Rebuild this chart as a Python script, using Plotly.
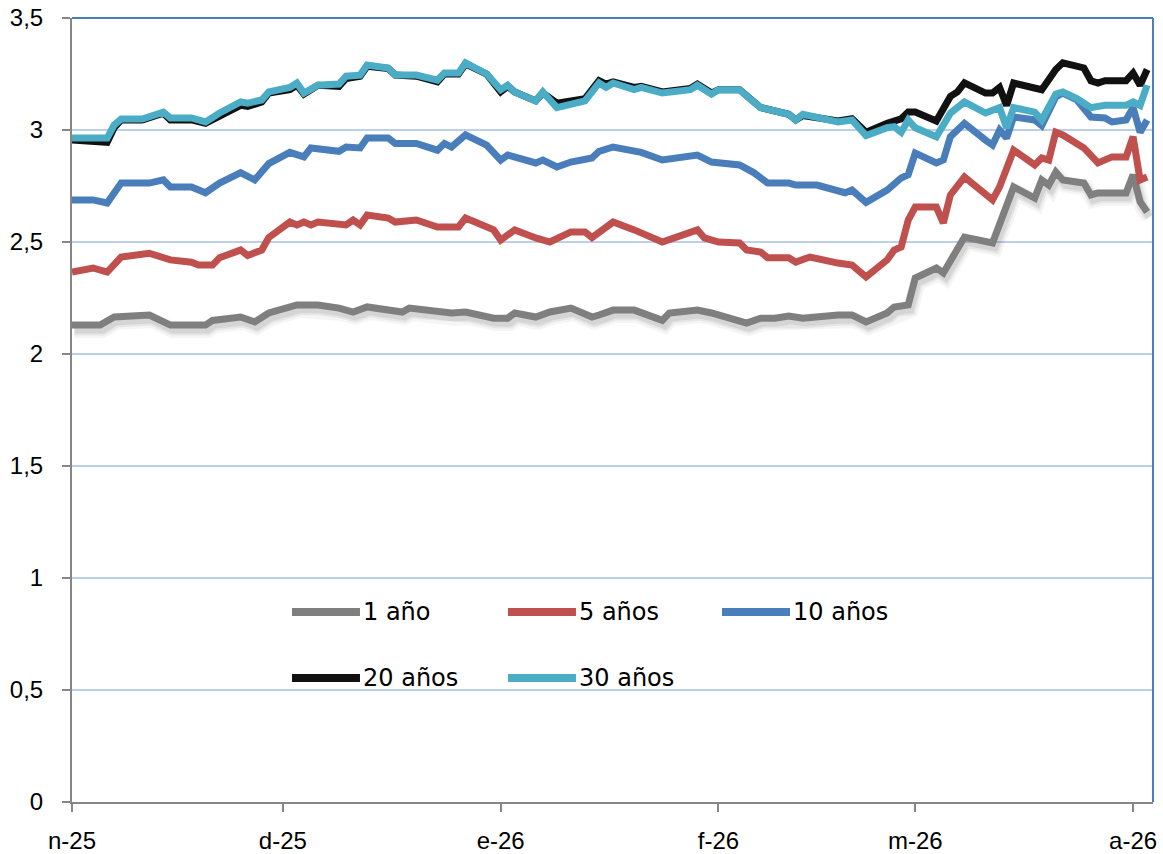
import plotly.graph_objects as go

# ---------------- data ----------------
dates_30 = ["2025-11-01","2025-11-06","2025-11-07","2025-11-08","2025-11-11","2025-11-14","2025-11-15","2025-11-18",
            "2025-11-20","2025-11-22","2025-11-25","2025-11-26","2025-11-28","2025-11-29","2025-12-02","2025-12-03",
            "2025-12-04","2025-12-06","2025-12-09","2025-12-10","2025-12-12","2025-12-13","2025-12-16","2025-12-17",
            "2025-12-20","2025-12-23","2025-12-24","2025-12-26","2025-12-27","2025-12-30","2026-01-01","2026-01-02",
            "2026-01-03","2026-01-06","2026-01-07","2026-01-09","2026-01-13","2026-01-15","2026-01-16","2026-01-17",
            "2026-01-20","2026-01-21","2026-01-24","2026-01-28","2026-01-29","2026-01-31","2026-02-01","2026-02-04",
            "2026-02-06","2026-02-07","2026-02-11","2026-02-12","2026-02-13","2026-02-18","2026-02-20","2026-02-22",
            "2026-02-25","2026-02-26","2026-02-27","2026-02-28","2026-03-01","2026-03-04","2026-03-06","2026-03-08",
            "2026-03-11","2026-03-13","2026-03-14","2026-03-15","2026-03-18","2026-03-19","2026-03-21","2026-03-22",
            "2026-03-24","2026-03-26","2026-03-28","2026-03-31","2026-04-01","2026-04-02","2026-04-03"]
y30 = [2.964,2.964,3.022,3.049,3.049,3.08,3.054,3.054,
       3.036,3.076,3.125,3.12,3.134,3.17,3.19,3.21,
       3.165,3.20,3.205,3.24,3.245,3.29,3.277,3.245,
       3.245,3.223,3.254,3.254,3.30,3.25,3.18,3.20,
       3.17,3.13,3.17,3.10,3.13,3.21,3.19,3.21,
       3.18,3.19,3.165,3.18,3.20,3.16,3.18,3.18,
       3.125,3.10,3.07,3.045,3.07,3.036,3.045,2.975,
       3.01,3.015,2.99,3.045,3.01,2.97,3.075,3.125,
       3.076,3.10,3.01,3.10,3.08,3.045,3.16,3.17,
       3.14,3.10,3.11,3.11,3.125,3.11,3.20]

dates_20 = ["2025-11-01","2025-11-06","2025-11-07","2025-11-08","2025-11-11","2025-11-14","2025-11-15","2025-11-18",
            "2025-11-20","2025-11-22","2025-11-25","2025-11-26","2025-11-28","2025-11-29","2025-12-02","2025-12-03",
            "2025-12-04","2025-12-06","2025-12-09","2025-12-10","2025-12-12","2025-12-13","2025-12-16","2025-12-17",
            "2025-12-20","2025-12-23","2025-12-24","2025-12-26","2025-12-27","2025-12-30","2026-01-01","2026-01-02",
            "2026-01-03","2026-01-06","2026-01-07","2026-01-09","2026-01-13","2026-01-15","2026-01-16","2026-01-17",
            "2026-01-20","2026-01-21","2026-01-24","2026-01-28","2026-01-29","2026-01-31","2026-02-01","2026-02-04",
            "2026-02-06","2026-02-07","2026-02-11","2026-02-12","2026-02-13","2026-02-18","2026-02-20","2026-02-22",
            "2026-02-25","2026-02-27","2026-02-28","2026-03-01","2026-03-04","2026-03-06","2026-03-07","2026-03-08",
            "2026-03-11","2026-03-12","2026-03-13","2026-03-14","2026-03-15","2026-03-18","2026-03-19","2026-03-21",
            "2026-03-22","2026-03-25","2026-03-26","2026-03-27","2026-03-28","2026-03-31","2026-04-01","2026-04-02",
            "2026-04-03"]
y20 = [2.955,2.945,3.01,3.045,3.045,3.075,3.045,3.045,
       3.03,3.065,3.11,3.105,3.125,3.165,3.18,3.20,
       3.16,3.20,3.195,3.23,3.24,3.285,3.275,3.245,
       3.24,3.215,3.25,3.25,3.295,3.25,3.17,3.195,
       3.17,3.13,3.165,3.12,3.14,3.22,3.205,3.215,
       3.19,3.195,3.17,3.185,3.205,3.165,3.18,3.18,
       3.13,3.10,3.07,3.045,3.065,3.04,3.05,2.99,
       3.03,3.05,3.08,3.08,3.04,3.15,3.17,3.21,
       3.165,3.165,3.19,3.11,3.21,3.19,3.18,3.27,
       3.30,3.277,3.22,3.21,3.22,3.22,3.254,3.20,
       3.27]

dates_10 = ["2025-11-01","2025-11-04","2025-11-06","2025-11-08","2025-11-12","2025-11-14","2025-11-15","2025-11-18",
            "2025-11-20","2025-11-22","2025-11-25","2025-11-27","2025-11-29","2025-12-02","2025-12-04","2025-12-05",
            "2025-12-09","2025-12-10","2025-12-12","2025-12-13","2025-12-16","2025-12-17","2025-12-20","2025-12-23",
            "2025-12-24","2025-12-25","2025-12-27","2025-12-30","2026-01-01","2026-01-02","2026-01-06","2026-01-07",
            "2026-01-09","2026-01-11","2026-01-14","2026-01-15","2026-01-17","2026-01-20","2026-01-21","2026-01-24",
            "2026-01-28","2026-01-29","2026-01-31","2026-02-04","2026-02-06","2026-02-08","2026-02-11","2026-02-12",
            "2026-02-15","2026-02-19","2026-02-20","2026-02-22","2026-02-25","2026-02-27","2026-02-28","2026-03-01",
            "2026-03-04","2026-03-05","2026-03-06","2026-03-08","2026-03-11","2026-03-12","2026-03-13","2026-03-14",
            "2026-03-15","2026-03-18","2026-03-19","2026-03-21","2026-03-22","2026-03-24","2026-03-26","2026-03-28",
            "2026-03-29","2026-03-31","2026-04-01","2026-04-02","2026-04-03"]
y10 = [2.688,2.688,2.674,2.763,2.763,2.777,2.746,2.746,
       2.72,2.763,2.81,2.777,2.85,2.90,2.88,2.92,
       2.905,2.924,2.92,2.964,2.964,2.94,2.94,2.91,
       2.94,2.924,2.978,2.933,2.866,2.888,2.853,2.866,
       2.835,2.857,2.875,2.905,2.924,2.90,2.90,2.866,
       2.88,2.888,2.857,2.844,2.81,2.763,2.763,2.754,
       2.754,2.72,2.732,2.677,2.732,2.786,2.80,2.897,
       2.853,2.866,2.97,3.03,2.955,2.933,3.0,2.964,
       3.058,3.045,3.02,3.147,3.165,3.134,3.058,3.054,
       3.036,3.045,3.10,2.99,3.045]

dates_5 = ["2025-11-01","2025-11-04","2025-11-06","2025-11-08","2025-11-12","2025-11-14","2025-11-15","2025-11-18",
           "2025-11-19","2025-11-21","2025-11-22","2025-11-25","2025-11-26","2025-11-28","2025-11-29","2025-12-02",
           "2025-12-03","2025-12-04","2025-12-05","2025-12-06","2025-12-09","2025-12-10","2025-12-11","2025-12-12",
           "2025-12-13","2025-12-16","2025-12-17","2025-12-20","2025-12-23","2025-12-26","2025-12-27","2025-12-31",
           "2026-01-01","2026-01-03","2026-01-06","2026-01-08","2026-01-11","2026-01-13","2026-01-14","2026-01-15",
           "2026-01-17","2026-01-20","2026-01-24","2026-01-29","2026-01-30","2026-02-01","2026-02-04","2026-02-05",
           "2026-02-07","2026-02-08","2026-02-11","2026-02-12","2026-02-14","2026-02-18","2026-02-20","2026-02-22",
           "2026-02-25","2026-02-26","2026-02-27","2026-02-28","2026-03-01","2026-03-04","2026-03-05","2026-03-06",
           "2026-03-08","2026-03-12","2026-03-13","2026-03-15","2026-03-18","2026-03-19","2026-03-20","2026-03-21",
           "2026-03-22","2026-03-25","2026-03-27","2026-03-29","2026-03-31","2026-04-01","2026-04-02","2026-04-03"]
y5 = [2.366,2.384,2.366,2.433,2.45,2.433,2.42,2.41,
      2.397,2.397,2.43,2.464,2.44,2.464,2.52,2.589,
      2.576,2.589,2.576,2.589,2.576,2.576,2.598,2.576,
      2.62,2.607,2.589,2.598,2.567,2.567,2.607,2.554,
      2.509,2.554,2.518,2.50,2.545,2.545,2.52,2.54,
      2.589,2.554,2.50,2.554,2.518,2.50,2.496,2.464,
      2.455,2.43,2.43,2.41,2.433,2.406,2.397,2.344,
      2.42,2.464,2.478,2.598,2.656,2.656,2.585,2.71,
      2.79,2.688,2.746,2.91,2.844,2.875,2.866,2.99,
      2.978,2.92,2.853,2.88,2.88,2.97,2.777,2.79]

dates_1 = ["2025-11-01","2025-11-05","2025-11-07","2025-11-12","2025-11-15","2025-11-20","2025-11-21","2025-11-25",
           "2025-11-27","2025-11-29","2025-12-03","2025-12-06","2025-12-09","2025-12-11","2025-12-13","2025-12-18",
           "2025-12-19","2025-12-25","2025-12-27","2025-12-31","2026-01-02","2026-01-03","2026-01-06","2026-01-08",
           "2026-01-11","2026-01-14","2026-01-15","2026-01-17","2026-01-20","2026-01-24","2026-01-25","2026-01-29",
           "2026-01-31","2026-02-03","2026-02-05","2026-02-07","2026-02-09","2026-02-11","2026-02-13","2026-02-18",
           "2026-02-20","2026-02-22","2026-02-25","2026-02-26","2026-02-28","2026-03-01","2026-03-04","2026-03-05",
           "2026-03-08","2026-03-12","2026-03-15","2026-03-18","2026-03-19","2026-03-20","2026-03-21","2026-03-22",
           "2026-03-25","2026-03-26","2026-03-27","2026-03-31","2026-04-01","2026-04-02","2026-04-03"]
y1 = [2.129,2.129,2.165,2.174,2.129,2.129,2.15,2.165,
      2.143,2.183,2.219,2.219,2.205,2.1875,2.21,2.1875,
      2.205,2.183,2.1875,2.16,2.16,2.183,2.165,2.1875,
      2.205,2.165,2.174,2.196,2.196,2.15,2.183,2.196,
      2.183,2.16,2.138,2.16,2.16,2.17,2.16,2.174,
      2.174,2.143,2.183,2.21,2.219,2.339,2.384,2.362,
      2.522,2.496,2.746,2.696,2.777,2.754,2.8125,2.777,
      2.763,2.71,2.719,2.719,2.80,2.68,2.634]

series_names = ["1 año", "5 años", "10 años", "20 años", "30 años"]
series_colors = ["#7F7F7F", "#C0504D", "#4A7EBB", "#111111", "#4BACC6"]

month_ticks = ["2025-11-01","2025-12-01","2026-01-01","2026-02-01","2026-03-01","2026-04-01"]
month_labels = ["n-25","d-25","e-26","f-26","m-26","a-26"]
y_ticks = [0, 0.5, 1, 1.5, 2, 2.5, 3, 3.5]
y_labels = ["0", "0,5", "1", "1,5", "2", "2,5", "3", "3,5"]

# ---------------- figure ----------------
fig = go.Figure()

# soft shadow under the 1-year line (drawn on a slightly shifted hidden axis pair)
for w, a in [(16, 0.04), (11, 0.06), (7, 0.07)]:
    fig.add_trace(go.Scatter(x=dates_1, y=y1, mode="lines", xaxis="x", yaxis="y",
                             line=dict(color=f"rgba(0,0,0,{a})", width=w),
                             hoverinfo="skip", showlegend=False))

all_series = [(dates_1, y1), (dates_5, y5), (dates_10, y10), (dates_20, y20), (dates_30, y30)]
for (d, v), name, col in zip(all_series, series_names, series_colors):
    fig.add_trace(go.Scatter(x=d, y=v, name=name, mode="lines", xaxis="x2", yaxis="y2",
                             line=dict(color=col, width=7), showlegend=False))

x_range = ["2025-11-01", "2026-04-03 20:00"]
x_range_shift = ["2025-10-31 16:00", "2026-04-03 12:00"]

tick_font = dict(family="Liberation Sans, Arial, sans-serif", size=24, color="#000000")

fig.update_layout(
    width=1163, height=854,
    margin=dict(l=72, r=10, t=18, b=52, autoexpand=False),
    paper_bgcolor="white", plot_bgcolor="white",
    showlegend=False,
    xaxis=dict(type="date", range=x_range_shift, visible=False, showgrid=False, zeroline=False,
               automargin=False),
    yaxis=dict(range=[0.022, 3.522], visible=False, showgrid=False, zeroline=False, automargin=False),
    xaxis2=dict(type="date", range=x_range, overlaying="x", side="bottom", anchor="y2",
                tickmode="array", tickvals=month_ticks, ticktext=month_labels,
                showgrid=False, zeroline=False, automargin=False,
                showline=True, linecolor="#868686", linewidth=2,
                ticks="outside", ticklen=8, tickwidth=2, tickcolor="#868686",
                ticklabelstandoff=8, tickfont=tick_font),
    yaxis2=dict(range=[0, 3.5], overlaying="y", side="left", anchor="x2",
                tickmode="array", tickvals=y_ticks, ticktext=y_labels,
                showgrid=True, gridcolor="#BCD0E8", gridwidth=2, zeroline=False, automargin=False,
                showline=True, linecolor="#868686", linewidth=2,
                ticks="outside", ticklen=8, tickwidth=2, tickcolor="#868686",
                ticklabelstandoff=14, tickfont=tick_font),
)

# blue frame on top and right
fig.add_shape(type="line", xref="paper", yref="paper", x0=0, x1=1, y0=1, y1=1,
              line=dict(color="#4A7EBB", width=2))
fig.add_shape(type="line", xref="paper", yref="paper", x0=1, x1=1, y0=0, y1=1,
              line=dict(color="#4A7EBB", width=2))

# manual legend (two rows, three columns)
legend_x = [0.2035, 0.4033, 0.6013, 0.2035, 0.4033]
legend_y = [0.2423, 0.2423, 0.2423, 0.1582, 0.1582]
line_len = 0.0629
for name, col, lx, ly in zip(series_names, series_colors, legend_x, legend_y):
    fig.add_shape(type="line", xref="paper", yref="paper", x0=lx, x1=lx + line_len, y0=ly, y1=ly,
                  line=dict(color=col, width=8))
    fig.add_annotation(xref="paper", yref="paper", x=lx + line_len + 0.0005, y=ly,
                       xanchor="left", yanchor="middle", text=name, showarrow=False,
                       font=dict(family="DejaVu Sans, Verdana, sans-serif", size=24, color="#000000"))

fig.write_html("out.html", config={"displayModeBar": False},
               post_script="document.body.style.margin='0px';document.body.style.overflow='hidden';")
